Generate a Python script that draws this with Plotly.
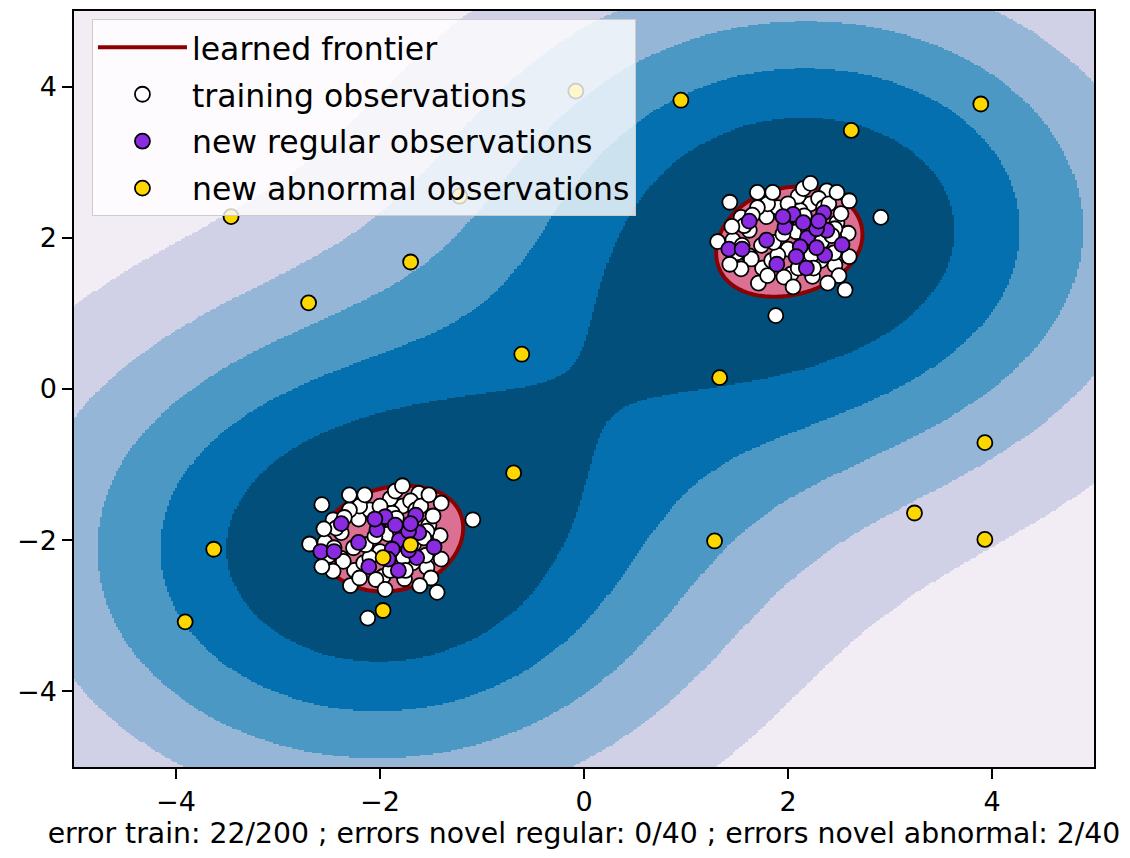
import numpy as np
import plotly.graph_objects as go

# ---------------- data ----------------
cluster_shifts = [2.0, -2.0]          # both clusters share the same offsets (X+2, X-2)
gamma = 0.1                           # RBF kernel of the one-class SVM
train_errors = 22                     # "error train: 22/200"

# training points lying on / beyond the learned frontier
train_outside_offsets = [
    (0.22, 0.72), (-0.30, 0.60), (-0.57, 0.47), (0.60, 0.49), (0.48, 0.60),
    (-0.69, -0.05), (-0.57, -0.35), (0.56, -0.69), (0.39, -0.60), (-0.12, -1.03),
    (0.91, 0.27),
]
# training points inside the frontier
train_inside_offsets = [
    (0.38, 0.62), (-0.29, -0.60), (-0.25, -0.40), (-0.38, 0.10), (-0.21, 0.28),
    (-0.38, -0.24), (0.00, -0.15), (0.22, 0.45), (0.12, 0.36), (0.48, 0.20),
    (0.46, -0.36), (0.24, -0.51), (0.03, -0.48), (-0.04, -0.52), (-0.46, 0.27),
    (-0.10, 0.40), (0.30, 0.52), (0.59, 0.06), (0.08, 0.08), (-0.26, -0.10),
    (-0.16, -0.30), (0.14, -0.24), (0.32, -0.30), (0.46, 0.12), (0.33, -0.05),
    (-0.54, -0.03), (-0.02, 0.22), (-0.43, 0.16), (0.16, 0.29), (-0.36, -0.28),
    (-0.10, -0.23), (0.23, -0.23), (0.43, 0.03), (-0.50, -0.20), (-0.46, -0.41),
    (0.52, 0.32), (-0.14, -0.06), (0.04, 0.30), (-0.20, 0.45), (0.10, 0.55),
    (0.35, 0.40), (-0.05, 0.05), (0.20, 0.10), (-0.30, 0.40), (0.25, -0.40),
    (0.10, -0.40), (0.45, -0.20), (-0.55, 0.15), (-0.20, -0.50), (0.50, -0.50),
    (-0.35, 0.30), (0.05, -0.65), (0.60, -0.25), (-0.45, -0.10), (0.15, 0.65),
    (-0.15, 0.60), (0.00, 0.45), (0.40, 0.45),
]
# new regular observations (offsets, same for both clusters)
regular_offsets = [
    (-0.38, 0.22), (0.05, 0.31), (0.35, 0.33), (-0.03, 0.14), (0.38, 0.10),
    (-0.21, -0.03), (0.19, 0.00), (0.53, -0.09), (-0.58, -0.15), (-0.45, -0.15),
    (0.12, -0.12), (0.36, -0.23), (-0.11, -0.35), (0.18, -0.40), (0.28, 0.12),
    (0.28, -0.13), (0.30, 0.22), (-0.05, 0.28), (0.08, -0.25), (0.15, 0.20),
]
# new abnormal observations
abnormal_x = [-0.08, 0.95, 3.89, 2.62, -3.46, -1.22, -1.70, -2.70, -0.61, 1.33,
              -0.69, 3.93, 3.24, 1.28, 3.93, -3.63, -3.91, -1.97, -1.97, -1.70]
abnormal_y = [3.94, 3.82, 3.77, 3.42, 2.28, 2.55, 1.68, 1.14, 0.46, 0.15,
              -1.11, -0.71, -1.64, -2.01, -1.99, -2.12, -3.08, -2.93, -2.23, -2.06]
tick_vals = [-4, -2, 0, 2, 4]
xlabel = ("error train: 22/200 ; errors novel regular: 0/40 ; "
          "errors novel abnormal: 2/40")
legend_names = ["learned frontier", "training observations",
                "new regular observations", "new abnormal observations"]

# ---------------- build point sets ----------------
def shifted(offsets):
    xs, ys = [], []
    for s in cluster_shifts:
        for dx, dy in offsets:
            xs.append(dx + s)
            ys.append(dy + s)
    return np.array(xs), np.array(ys)

out_x, out_y = shifted(train_outside_offsets)
in_x, in_y = shifted(train_inside_offsets)
train_x = np.concatenate([in_x, out_x])
train_y = np.concatenate([in_y, out_y])
reg_x, reg_y = shifted(regular_offsets)

# ---------------- one-class SVM (dual, FISTA with capped-simplex projection) -------
P = np.column_stack([train_x, train_y])
n = len(P)
K = np.exp(-gamma * ((P[:, None, :] - P[None, :, :]) ** 2).sum(-1))
C = 1.0 / train_errors  # nu * n = number of training errors


def project(v):
    lo, hi = v.min() - 1.0, v.max()
    for _ in range(60):
        tau = 0.5 * (lo + hi)
        if np.clip(v - tau, 0, C).sum() > 1:
            lo = tau
        else:
            hi = tau
    return np.clip(v - 0.5 * (lo + hi), 0, C)


L = np.linalg.eigvalsh(K).max()
alpha = np.full(n, 1.0 / n)
yk = alpha.copy()
tk = 1.0
for _ in range(4000):
    a_new = project(yk - K @ yk / L)
    t_new = 0.5 * (1 + np.sqrt(1 + 4 * tk * tk))
    yk = a_new + (tk - 1) / t_new * (a_new - alpha)
    alpha, tk = a_new, t_new

f_train = K @ alpha
free = (alpha > 1e-3 * C) & (alpha < C * (1 - 1e-3))
if free.any():
    rho = f_train[free].mean()
else:
    rho = 0.5 * (f_train[alpha >= C * (1 - 1e-3)].max() + f_train[alpha <= 1e-3 * C].min())

grid = np.linspace(-5, 5, 500)
XX, YY = np.meshgrid(grid, grid)
F = np.zeros_like(XX)
for a, (sx, sy) in zip(alpha, P):
    if a > 1e-7:
        F += a * np.exp(-gamma * ((XX - sx) ** 2 + (YY - sy) ** 2))
Z = F - rho
zmin = Z.min()
step = -zmin / 6.0
band = np.clip(np.floor((Z - zmin) / step), 0, 5)
band[Z >= 0] = 6

band_colors = ["#f2ecf5", "#d0d1e6", "#95b6d7", "#4b98c5", "#0570b0", "#034f7b",
               "#db7093"]
cs = []
nb = len(band_colors)
for i, c in enumerate(band_colors):
    cs.append([i / nb, c])
    cs.append([(i + 1) / nb, c])

FONT = "DejaVu Sans"
fig = go.Figure()
fig.add_trace(go.Heatmap(x=grid, y=grid, z=band, zmin=-0.5, zmax=6.5,
                         colorscale=cs, showscale=False, hoverinfo="skip",
                         zsmooth=False))
fig.add_trace(go.Contour(x=grid, y=grid, z=Z, showscale=False, hoverinfo="skip",
                         contours=dict(start=0, end=0, size=1, coloring="none"),
                         line=dict(color="darkred", width=4), showlegend=False))
fig.add_trace(go.Scatter(x=[None], y=[None], mode="lines", name=legend_names[0],
                         legendgroup="a", line=dict(color="darkred", width=4)))
mk = dict(size=15, line=dict(color="black", width=1.8))
fig.add_trace(go.Scatter(x=train_x, y=train_y, mode="markers", name=legend_names[1],
                         legendgroup="b", marker=dict(color="white", **mk)))
fig.add_trace(go.Scatter(x=reg_x, y=reg_y, mode="markers", name=legend_names[2],
                         legendgroup="c", marker=dict(color="blueviolet", **mk)))
fig.add_trace(go.Scatter(x=abnormal_x, y=abnormal_y, mode="markers",
                         name=legend_names[3], legendgroup="d",
                         marker=dict(color="gold", **mk)))

axis_common = dict(range=[-5, 5], tickvals=tick_vals, ticks="outside", ticklen=10,
                   tickwidth=1.5, tickcolor="black", showline=True, mirror=True,
                   linecolor="black", linewidth=1.5, showgrid=False, zeroline=False,
                   tickfont=dict(family=FONT, size=27, color="black"))
# the page body has an 8px default margin, compensated in the figure margins
fig.update_layout(
    width=1130, height=858,
    margin=dict(l=66, r=44, t=1, b=99),
    paper_bgcolor="white", plot_bgcolor="white",
    xaxis=dict(**axis_common,
               title=dict(text=xlabel, font=dict(family=FONT, size=28.3, color="black"),
                          standoff=4)),
    yaxis=dict(**axis_common),
    legend=dict(x=0.0176, y=0.989, xanchor="left", yanchor="top",
                bgcolor="rgba(255,255,255,0.8)", bordercolor="#cccccc",
                borderwidth=1, itemwidth=89, tracegroupgap=3,
                font=dict(family=FONT, size=31.5, color="black")),
    showlegend=True,
)
fig.write_html("out.html")
